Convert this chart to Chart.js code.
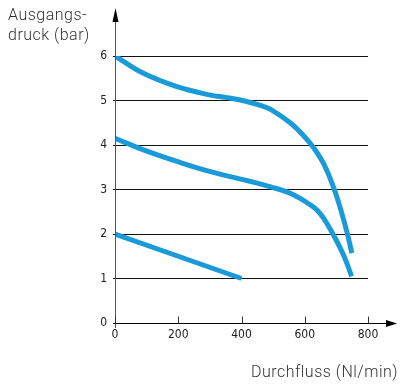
<!DOCTYPE html>
<html><head><meta charset="utf-8">
<script src="https://cdn.jsdelivr.net/npm/chart.js@4/dist/chart.umd.min.js"></script>
<style>html,body{margin:0;padding:0;background:#fff}#w{width:401px;height:385px}</style>
</head><body><div id="w"><canvas id="c"></canvas></div>
<script>
const xTicks = [0, 200, 400, 600, 800];
const yTicks = [0, 1, 2, 3, 4, 5, 6];
const curveTopX = [0, 90, 196, 302, 350, 410, 460, 492, 556, 600, 630, 662, 692, 715, 735, 749];
const curveTopY = [6.0, 5.61, 5.31, 5.12, 5.07, 4.99, 4.89, 4.80, 4.49, 4.18, 3.92, 3.55, 3.03, 2.52, 2.0, 1.57];
const curveMidX = [0, 90, 196, 302, 429, 492, 556, 619, 640, 661, 693, 725, 748];
const curveMidY = [4.15, 3.89, 3.63, 3.40, 3.18, 3.06, 2.91, 2.65, 2.53, 2.34, 1.95, 1.49, 1.05];
const curveLowX = [0, 400];
const curveLowY = [2.0, 1.0];
const xTitle = 'Durchfluss (Nl/min)';
const yTitle = ['Ausgangs-', 'druck (bar)'];

const blue = '#1a9ad8';
const pts = (xs, ys) => xs.map((x, i) => ({x, y: ys[i]}));
const mk = (xs, ys, w) => ({data: pts(xs, ys), borderColor: blue, borderWidth: w, pointRadius: 0, fill: false, tension: 0.4, borderCapStyle: 'butt'});

const tickFont = {family: '"Liberation Sans Narrow", "DejaVu Sans Condensed", sans-serif', size: 12};

const deco = {
  id: 'deco',
  afterDraw(chart) {
    const {ctx, chartArea: a, scales: {x, y}} = chart;
    ctx.save();
    ctx.strokeStyle = '#555'; ctx.lineWidth = 1;
    ctx.beginPath(); ctx.moveTo(a.left + 0.5, a.bottom + 5); ctx.lineTo(a.left + 0.5, 20); ctx.stroke();
    ctx.fillStyle = '#000';
    ctx.beginPath(); ctx.moveTo(a.left + 0.5, 8); ctx.lineTo(a.left - 2.5, 22); ctx.lineTo(a.left + 3.5, 22); ctx.closePath(); ctx.fill();
    const y0 = Math.round(y.getPixelForValue(0)) + 0.5;
    ctx.strokeStyle = '#000';
    ctx.beginPath(); ctx.moveTo(a.left, y0); ctx.lineTo(390, y0); ctx.stroke();
    ctx.beginPath(); ctx.moveTo(397, y0); ctx.lineTo(386, y0 - 3.5); ctx.lineTo(386, y0 + 3.5); ctx.closePath(); ctx.fill();
    ctx.strokeStyle = '#333';
    xTicks.forEach(v => { const px = Math.round(x.getPixelForValue(v)) + 0.5; ctx.beginPath(); ctx.moveTo(px, y0); ctx.lineTo(px, y0 - 7); ctx.stroke(); });
    ctx.fillStyle = '#333';
    ctx.font = '300 16px Roboto, "Open Sans", sans-serif';
    try { ctx.letterSpacing = '0.5px'; } catch (e) {}
    ctx.textBaseline = 'alphabetic'; ctx.textAlign = 'left';
    ctx.fillText(yTitle[0], 8, 20);
    ctx.fillText(yTitle[1], 8, 40);
    ctx.textAlign = 'right';
    ctx.fillText(xTitle, 398, 377);
    ctx.restore();
  }
};

new Chart(document.getElementById('c'), {
  type: 'line',
  data: {datasets: [mk(curveTopX, curveTopY, 5), mk(curveMidX, curveMidY, 5), mk(curveLowX, curveLowY, 5)]},
  options: {
    responsive: true, maintainAspectRatio: false, animation: false,
    layout: {padding: {left: 0, right: 33, top: 56, bottom: 0}},
    plugins: {legend: {display: false}, tooltip: {enabled: false}},
    scales: {
      x: {
        type: 'linear', min: 0, max: 800,
        afterBuildTicks: s => { s.ticks = xTicks.map(v => ({value: v})); },
        afterFit: s => { s.height = 62; },
        border: {display: false},
        grid: {display: false, drawTicks: false},
        ticks: {color: '#222', font: tickFont, padding: 5, maxRotation: 0}
      },
      y: {
        type: 'linear', min: 0, max: 6,
        afterBuildTicks: s => { s.ticks = yTicks.map(v => ({value: v})); },
        afterFit: s => { s.width = 115; },
        border: {display: false},
        grid: {color: '#111', lineWidth: 1, drawTicks: true, tickLength: 2},
        ticks: {color: '#222', font: tickFont, padding: 6}
      }
    }
  },
  plugins: [deco]
});
</script>
</body></html>
